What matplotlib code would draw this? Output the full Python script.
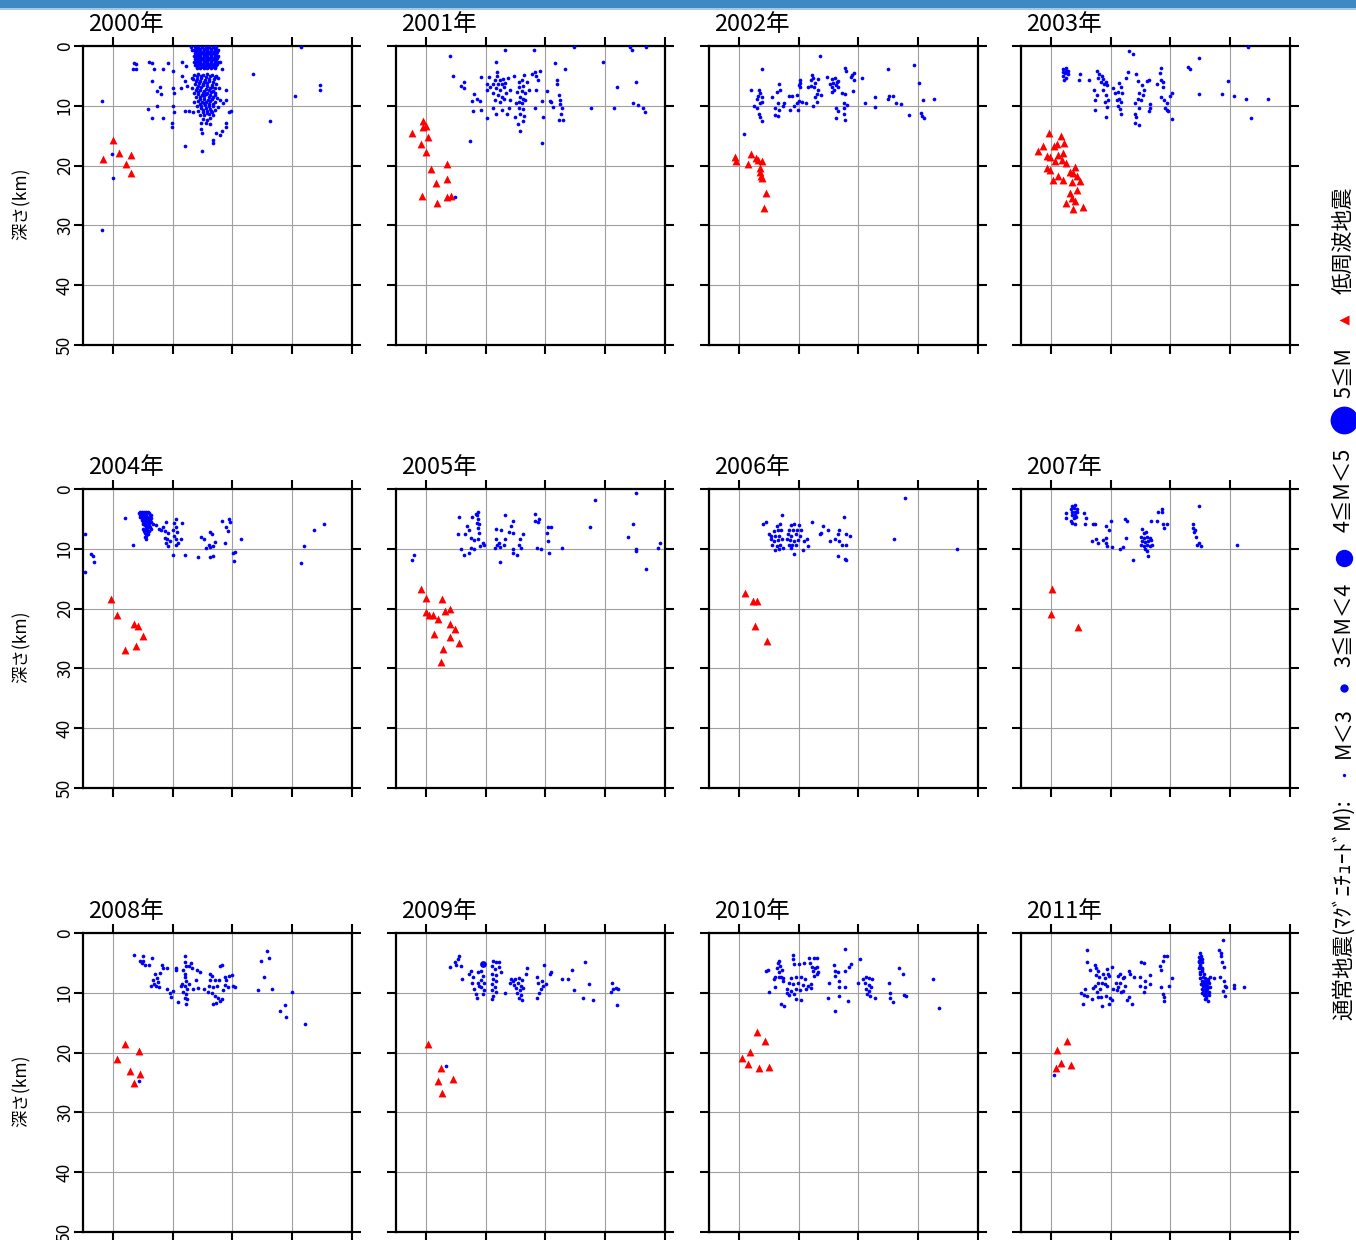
import matplotlib
matplotlib.use('Agg')
import matplotlib.pyplot as plt
from matplotlib.patches import Rectangle

plt.rcParams['font.family'] = ['Noto Sans CJK JP', 'DejaVu Sans']

# ---- data (x: horizontal distance units, d: depth km) ----
YEARS = [2000, 2001, 2002, 2003, 2004, 2005, 2006, 2007, 2008, 2009, 2010, 2011]
X_TICKS = [5, 15, 25, 35, 45]
DEPTH_TICKS = [0, 10, 20, 30, 40, 50]
DEPTH_LABELS = ['0', '10', '20', '30', '40', '50']

EQ_2000 = [
    (3.1, 9.2), (4.8, 18.1), (5.0, 22.1), (3.2, 30.7),
    (8.5, 2.9), (8.9, 3.0), (8.4, 3.9), (8.9, 3.9),
    (11.0, 2.6), (11.5, 2.8), (11.8, 3.9), (13.4, 3.9), (14.2, 2.9), (15.0, 4.2),
    (11.5, 5.9), (12.3, 7.5), (12.8, 6.9), (13.1, 8.1), (15.1, 7.1), (15.2, 7.8),
    (10.9, 10.6), (12.4, 10.1), (11.5, 12.1), (13.4, 12.1), (15.1, 10.1), (15.3, 11.0),
    (14.9, 12.9), (14.9, 13.5),
    (16.6, 2.6), (16.6, 5.1), (17.3, 3.4), (16.4, 7.1), (17.0, 5.9), (17.4, 6.7), (18.3, 5.3),
    (17.0, 10.9), (17.8, 10.9), (18.4, 11.0),
    (17.0, 16.8), (19.9, 17.6), (19.8, 12.9), (19.7, 13.8), (19.9, 14.6),
    (21.7, 15.7), (21.7, 16.2), (22.3, 14.6), (22.9, 14.8), (23.3, 14.2), (24.0, 12.9),
    (23.9, 13.5), (24.5, 11.0), (24.7, 10.9), (24.0, 9.1), (24.0, 7.4), (23.0, 9.1),
    (23.4, 9.6), (22.9, 2.7), (23.2, 3.8),
    (28.4, 4.6), (31.3, 12.5), (35.5, 8.3), (39.6, 6.6), (39.7, 7.3), (36.5, 0.2),
    (18.1, 0.2), (18.3, 0.7),
    # dense swarm, upper part
    (18.7, 0.2), (19.3, 0.2), (19.9, 0.2), (20.5, 0.2), (21.1, 0.2), (21.7, 0.2), (22.3, 0.2),
    (19.0, 0.45), (19.6, 0.45), (20.2, 0.45), (20.8, 0.45), (21.4, 0.45), (22.0, 0.45),
    (18.5, 0.7), (19.0, 0.7), (19.6, 0.7), (20.2, 0.7), (20.8, 0.7), (21.4, 0.7), (22.0, 0.7), (22.6, 0.7),
    (18.9, 0.95), (19.5, 0.95), (20.1, 0.95), (20.7, 0.95), (21.3, 0.95), (21.9, 0.95), (22.4, 0.95),
    (18.7, 1.2), (19.3, 1.2), (19.9, 1.2), (20.5, 1.2), (21.1, 1.2), (21.7, 1.2), (22.3, 1.2),
    (19.0, 1.45), (19.6, 1.45), (20.2, 1.45), (20.8, 1.45), (21.4, 1.45), (22.0, 1.45),
    (18.5, 1.7), (19.0, 1.7), (19.6, 1.7), (20.2, 1.7), (20.8, 1.7), (21.4, 1.7), (22.0, 1.7), (22.6, 1.7),
    (18.9, 1.95), (19.5, 1.95), (20.1, 1.95), (20.7, 1.95), (21.3, 1.95), (21.9, 1.95), (22.4, 1.95),
    (18.7, 2.2), (19.3, 2.2), (19.9, 2.2), (20.5, 2.2), (21.1, 2.2), (21.7, 2.2), (22.3, 2.2),
    (19.0, 2.45), (19.6, 2.45), (20.2, 2.45), (20.8, 2.45), (21.4, 2.45), (22.0, 2.45),
    (18.5, 2.7), (19.0, 2.7), (19.6, 2.7), (20.2, 2.7), (20.8, 2.7), (21.4, 2.7), (22.0, 2.7), (22.6, 2.7),
    (18.9, 2.95), (19.5, 2.95), (20.1, 2.95), (20.7, 2.95), (21.3, 2.95), (21.9, 2.95), (22.4, 2.95),
    (18.8, 3.2), (19.3, 3.2), (19.9, 3.2), (20.5, 3.2), (21.1, 3.2), (21.7, 3.2), (22.3, 3.2),
    (19.1, 3.45), (19.7, 3.45), (20.3, 3.45), (20.9, 3.45), (21.5, 3.45), (22.1, 3.45),
    (19.0, 3.7), (19.6, 3.7), (20.2, 3.7), (20.8, 3.7), (21.4, 3.7), (22.0, 3.7),
    # dense swarm, lower part
    (18.6, 4.8), (19.3, 4.7), (20.1, 4.9), (20.8, 4.7), (21.6, 4.8), (22.3, 5.0),
    (19.0, 5.1), (19.8, 5.0), (20.6, 5.2), (21.3, 5.1), (22.0, 5.2),
    (18.4, 5.5), (19.0, 5.6), (19.7, 5.4), (20.4, 5.7), (21.1, 5.5), (21.9, 5.6), (22.6, 5.4),
    (18.9, 5.9), (19.6, 5.9), (20.3, 6.0), (21.0, 5.9), (21.8, 6.0),
    (18.7, 6.3), (19.4, 6.2), (20.1, 6.4), (20.8, 6.2), (21.5, 6.5), (22.2, 6.3),
    (19.3, 6.7), (20.0, 6.6), (20.8, 6.7), (21.6, 6.8),
    (18.3, 7.0), (19.0, 7.1), (19.8, 6.9), (20.5, 7.2), (21.2, 7.0), (22.0, 7.1), (22.7, 7.0),
    (18.9, 7.4), (19.6, 7.4), (20.3, 7.5), (21.1, 7.4), (21.8, 7.5),
    (18.6, 7.8), (19.3, 7.7), (20.0, 7.9), (20.7, 7.8), (21.4, 7.7), (22.1, 7.9),
    (19.2, 8.1), (19.9, 8.2), (20.6, 8.1), (21.3, 8.2), (22.0, 8.2),
    (18.9, 8.5), (19.6, 8.6), (20.3, 8.4), (21.0, 8.6), (21.7, 8.5), (22.4, 8.7),
    (19.5, 8.9), (20.2, 8.9), (20.9, 9.0), (21.6, 8.9),
    (18.5, 9.3), (19.2, 9.2), (19.9, 9.4), (20.6, 9.3), (21.3, 9.2), (22.0, 9.4),
    (19.5, 9.7), (20.3, 9.6), (21.0, 9.7), (21.7, 9.7),
    (19.0, 10.0), (19.7, 10.1), (20.4, 9.9), (21.1, 10.1), (21.8, 10.0), (22.5, 10.2),
    (19.8, 10.4), (20.5, 10.4), (21.2, 10.5),
    (19.3, 10.8), (20.0, 10.7), (20.7, 10.9), (21.4, 10.8), (22.1, 10.7),
    (20.0, 11.1), (20.8, 11.2), (21.5, 11.1),
    (19.6, 11.5), (20.3, 11.6), (21.0, 11.4), (21.7, 11.6),
    (20.0, 12.2), (20.7, 12.3), (21.3, 12.1), (20.5, 12.8), (21.2, 13.0),
]
LFE_2000 = [(5.0, 15.7), (3.3, 18.9), (6.1, 17.9), (8.1, 18.3), (7.2, 19.7), (8.1, 21.2)]

EQ_2001 = [
    (9.0, 1.7), (18.2, 0.7), (23.1, 0.7), (29.7, 0.2), (39.1, 0.2), (39.5, 0.7), (41.8, 0.2),
    (16.7, 2.7), (26.6, 2.9), (28.3, 3.9), (34.6, 2.7),
    (9.6, 5.1), (10.9, 6.7), (11.3, 6.1), (11.4, 7.1), (13.1, 8.1), (12.7, 9.2), (13.5, 8.8),
    (14.0, 9.2), (14.3, 5.2), (14.3, 10.7), (12.8, 10.8), (15.3, 12.1), (12.3, 15.9),
    (16.9, 4.3), (16.9, 5.1), (16.5, 5.7), (17.4, 5.7), (17.9, 5.6), (16.3, 6.3), (17.1, 6.3),
    (17.7, 6.4), (18.2, 6.2), (15.7, 6.9), (16.7, 7.1), (17.4, 7.3), (18.1, 6.9), (16.3, 7.9),
    (17.1, 8.2), (17.7, 8.5), (18.4, 7.8), (16.6, 9.1), (17.4, 9.3), (18.1, 8.9), (15.2, 6.3),
    (15.6, 5.2), (15.2, 7.4), (16.2, 10.3), (16.8, 11.3), (17.7, 10.7), (18.5, 11.3),
    (18.9, 10.3), (19.1, 9.1), (19.1, 7.4), (18.7, 5.3), (19.7, 5.1),
    (20.5, 6.0), (21.0, 5.7), (20.6, 6.8), (21.3, 6.7), (20.3, 7.7), (21.0, 7.5), (21.6, 7.9),
    (20.8, 8.5), (21.3, 8.8), (20.5, 9.3), (21.0, 9.6), (21.6, 9.1), (20.6, 10.3), (21.3, 10.6),
    (20.8, 11.3), (21.4, 11.7), (21.2, 12.5), (20.4, 13.1), (20.7, 14.2), (19.9, 11.8),
    (20.1, 9.6), (21.9, 6.0), (21.4, 4.9),
    (22.2, 7.3), (22.7, 4.7), (23.2, 4.3), (23.5, 5.1), (23.8, 5.7), (24.1, 4.2), (23.4, 7.3),
    (23.2, 10.3), (24.4, 9.2), (24.6, 11.8), (24.5, 16.3), (25.2, 7.5), (25.8, 9.2),
    (26.2, 10.2), (25.9, 9.3),
    (26.9, 5.7), (27.0, 6.3), (27.3, 8.2), (27.5, 9.0), (27.4, 9.7), (27.7, 10.4), (27.6, 11.3),
    (27.9, 12.3), (27.3, 12.4),
    (32.7, 10.3), (36.5, 10.4), (37.0, 6.8), (39.7, 9.6), (40.4, 9.8), (40.2, 6.0),
    (41.4, 10.4), (41.7, 11.0), (9.9, 25.2),
]
LFE_2001 = [(4.5, 12.5), (4.6, 13.5), (5.0, 13.4), (2.7, 14.6), (5.4, 15.2), (4.1, 16.4),
            (5.1, 17.7), (8.5, 19.7), (5.8, 20.6), (8.6, 22.2), (6.7, 22.9), (4.3, 25.1),
            (6.9, 26.2), (8.6, 25.2), (9.2, 25.1)]

EQ_2002 = [
    (18.6, 1.7), (8.8, 3.9), (22.7, 3.7), (22.9, 4.1), (34.3, 3.2), (30.0, 3.9), (24.2, 4.5),
    (23.9, 4.9), (23.7, 5.2), (25.6, 5.3), (24.2, 5.7), (19.8, 5.2), (17.3, 4.9), (17.4, 5.3),
    (17.0, 5.7), (18.2, 5.6), (17.8, 6.2), (16.6, 6.8), (17.1, 6.7), (17.6, 6.8), (18.2, 7.3),
    (15.2, 5.7), (15.3, 6.2), (15.1, 6.6), (15.3, 6.9), (14.8, 8.2), (15.1, 9.2), (14.8, 9.5),
    (14.2, 10.1), (14.9, 10.7), (15.6, 9.3), (16.2, 9.5), (17.4, 10.1), (18.1, 9.3),
    (18.1, 8.1), (17.8, 8.6), (18.8, 8.2),
    (20.6, 5.6), (21.1, 5.4), (21.4, 6.0), (20.8, 6.2), (21.2, 6.6), (20.6, 6.8), (21.5, 6.8),
    (20.9, 7.3), (20.6, 7.7), (21.6, 5.8), (20.3, 6.3),
    (22.3, 7.8), (22.7, 8.1), (24.1, 7.5), (22.5, 9.5), (23.1, 9.9), (22.6, 10.4), (22.6, 11.4),
    (22.7, 12.4), (21.2, 12.1), (21.5, 10.8), (21.3, 10.4),
    (7.1, 7.3), (8.4, 7.4), (8.5, 7.8), (8.2, 8.4), (8.0, 8.8), (8.9, 8.6), (8.9, 9.3),
    (8.5, 9.6), (7.6, 10.1), (8.0, 10.4), (8.4, 11.4), (8.6, 11.8), (8.9, 12.6), (10.6, 8.6),
    (11.4, 7.7), (11.7, 6.3), (11.9, 7.3), (11.5, 9.6), (11.1, 10.4), (11.7, 10.7),
    (11.1, 11.6), (11.5, 11.7), (12.5, 9.6), (12.4, 10.1), (13.4, 8.4), (13.9, 8.4),
    (13.5, 10.7), (5.9, 14.7),
    (26.1, 9.6), (27.7, 8.6), (27.8, 10.2), (29.9, 8.8), (30.1, 8.4), (30.8, 8.4), (31.2, 9.5),
    (32.1, 9.7), (35.2, 6.2), (35.8, 9.1), (37.6, 8.9), (33.4, 11.6), (35.4, 11.2),
    (35.7, 11.7), (35.9, 12.1),
]
LFE_2002 = [(4.3, 18.5), (4.6, 19.3), (6.6, 19.7), (7.1, 18.1), (7.8, 18.8), (8.2, 19.1),
            (8.9, 19.3), (8.5, 20.4), (8.6, 21.0), (8.7, 21.7), (8.9, 22.1), (9.5, 24.6),
            (9.2, 27.1)]

EQ_2003 = [
    (7.1, 3.8), (7.5, 3.7), (7.9, 4.1), (7.0, 4.3), (7.4, 4.5), (7.8, 4.7), (7.1, 5.1),
    (7.5, 5.3), (7.2, 5.7), (7.6, 4.2),
    (9.8, 4.7), (9.7, 5.7), (11.4, 5.7), (18.1, 0.8), (18.7, 1.4), (17.9, 4.4), (19.3, 4.6),
    (21.0, 5.8), (21.4, 5.7), (23.4, 3.6), (23.2, 4.5), (23.5, 5.7), (23.8, 6.0), (22.7, 6.3),
    (28.0, 3.5), (28.2, 3.9), (29.7, 2.0), (38.0, 0.2), (34.7, 5.8), (29.7, 8.1), (33.6, 8.1),
    (35.7, 8.4), (37.7, 8.9), (41.4, 8.9), (38.4, 12.1),
    (12.7, 4.2), (13.1, 4.6), (13.5, 5.1), (12.9, 5.3), (13.8, 5.6), (14.2, 6.0), (13.3, 6.0),
    (13.9, 6.4), (14.4, 6.6), (12.2, 7.4), (12.7, 8.2), (12.3, 9.1), (12.3, 10.7), (13.8, 7.4),
    (14.2, 8.2), (14.6, 9.1), (14.0, 9.3), (14.4, 10.2), (14.3, 11.8), (15.4, 7.1), (15.7, 7.9),
    (16.4, 6.2), (16.7, 6.9), (16.3, 7.7), (16.9, 7.9), (16.4, 8.8), (16.7, 9.3), (16.3, 10.1),
    (16.6, 10.6), (16.8, 11.3), (17.6, 5.4), (16.0, 9.1),
    (19.5, 5.8), (20.2, 6.6), (20.5, 7.3), (19.8, 7.9), (20.4, 8.2), (19.6, 8.8), (20.0, 9.1),
    (19.1, 9.6), (19.8, 10.3), (19.1, 11.3), (19.2, 11.9), (19.1, 12.8), (19.8, 13.2),
    (21.5, 9.7), (21.6, 10.4), (21.4, 10.8),
    (23.7, 6.9), (23.5, 8.5), (23.9, 9.1), (24.4, 9.6), (24.1, 10.3), (24.4, 10.7), (24.9, 8.4),
    (25.2, 7.9), (25.2, 12.2), (24.6, 10.8),
]
LFE_2003 = [(4.7, 14.6), (6.7, 15.1), (7.2, 16.2), (6.0, 16.4), (5.5, 16.8), (3.7, 16.8),
            (2.9, 17.5), (4.3, 18.4), (4.8, 18.5), (6.2, 18.2), (7.1, 17.9), (6.8, 19.1),
            (5.7, 19.3), (7.6, 19.6), (4.3, 20.4), (4.8, 20.7), (9.0, 20.2), (8.2, 21.0),
            (8.7, 21.3), (9.3, 21.8), (6.2, 21.8), (5.4, 22.4), (7.1, 22.4), (8.5, 22.7),
            (9.8, 22.5), (8.2, 24.5), (9.3, 24.1), (8.5, 25.4), (7.6, 26.3), (8.7, 27.3),
            (10.4, 26.9), (9.0, 26.0)]

EQ_2004 = [
    (0.4, 7.6), (0.3, 13.8), (1.4, 10.9), (1.7, 11.2), (1.8, 12.2), (7.1, 4.8), (8.4, 9.3),
    (9.4, 4.0), (9.9, 3.9), (10.5, 3.9), (11.0, 4.0), (11.4, 4.3), (9.6, 4.6), (10.2, 4.7),
    (10.7, 4.6), (11.3, 4.8), (9.8, 5.2), (10.3, 5.4), (10.9, 5.4), (11.4, 5.6), (10.0, 5.9),
    (10.6, 6.1), (11.1, 6.1), (10.1, 6.7), (10.7, 6.8), (11.3, 6.7), (10.3, 7.3), (10.9, 7.6),
    (10.6, 8.3), (11.7, 5.9), (12.2, 6.1), (9.7, 4.3), (10.4, 5.0), (11.0, 4.9), (10.5, 6.4),
    (10.2, 7.0), (10.8, 7.1), (10.5, 7.8),
    (9.6, 3.9), (10.2, 3.8), (10.8, 3.8), (9.5, 4.4), (10.1, 4.3), (10.6, 4.3), (11.2, 4.4),
    (9.9, 4.9), (10.7, 5.0), (11.2, 5.2), (10.0, 5.5), (10.6, 5.6), (11.1, 5.7), (10.3, 6.1),
    (10.8, 6.4), (11.2, 6.4), (10.4, 6.9), (11.0, 7.0), (10.7, 7.5), (10.3, 8.0),
    (12.7, 6.7), (13.3, 6.3), (13.1, 6.8), (13.9, 5.6),
    (13.8, 7.1), (14.2, 7.4), (13.7, 8.2), (14.0, 8.4), (14.5, 8.7), (13.9, 9.0), (14.2, 9.6),
    (15.1, 6.8), (15.3, 5.7), (15.6, 5.1), (15.5, 6.3), (15.7, 7.2), (15.3, 7.9), (15.6, 8.4),
    (15.9, 9.0), (15.5, 9.4), (16.4, 8.3), (16.6, 5.7), (15.1, 11.1), (17.0, 11.1),
    (19.3, 11.3), (19.8, 8.0), (20.2, 8.4), (20.5, 9.8), (21.2, 7.2), (21.5, 7.6), (21.3, 9.7),
    (21.7, 9.6), (21.1, 9.4), (21.3, 11.3), (21.8, 11.2), (22.0, 8.9), (23.3, 5.4), (24.0, 6.3),
    (24.2, 7.1), (24.5, 5.0), (24.6, 5.6), (23.7, 9.1), (25.1, 10.7), (25.2, 12.1),
    (25.4, 10.6), (26.4, 8.3), (36.5, 12.3), (37.0, 9.6), (38.6, 6.9), (40.3, 5.9),
]
LFE_2004 = [(4.7, 18.4), (5.7, 21.1), (8.5, 22.6), (9.2, 22.9), (10.0, 24.6), (8.9, 26.3),
            (7.1, 26.9)]

EQ_2005 = [
    (40.2, 0.6), (33.3, 1.9), (10.5, 4.7), (12.7, 4.6), (13.3, 4.2), (13.7, 3.9), (13.5, 4.4),
    (13.8, 5.0), (13.5, 5.7), (13.9, 5.9), (13.7, 6.5), (13.9, 7.3), (13.8, 8.3), (11.9, 6.2),
    (12.2, 6.9), (11.6, 7.6), (10.3, 7.6), (12.5, 8.2), (13.0, 8.6), (14.5, 9.0), (14.1, 9.6),
    (14.8, 9.3), (10.9, 10.0), (12.5, 9.8), (12.2, 10.7), (11.3, 11.1), (13.0, 10.1),
    (16.7, 6.7), (17.6, 6.8), (18.2, 4.4), (19.5, 5.4), (19.3, 6.2), (18.9, 7.2), (19.5, 7.3),
    (18.3, 8.4), (16.7, 8.4), (17.2, 9.0), (16.9, 9.4), (16.5, 9.8), (17.4, 9.7), (18.0, 9.3),
    (17.4, 12.2), (19.5, 10.1), (19.6, 10.7), (20.3, 11.1), (20.9, 9.8), (20.7, 8.3),
    (21.2, 7.6), (20.6, 9.3), (23.3, 4.2), (23.2, 5.4), (23.8, 5.6), (24.0, 5.1), (23.6, 9.8),
    (24.2, 10.1), (25.3, 7.4), (25.4, 8.7), (25.5, 6.3), (25.9, 6.4), (25.6, 10.7),
    (27.7, 9.9), (32.5, 6.3), (39.6, 5.9), (38.8, 8.0), (40.1, 10.1), (40.2, 10.4),
    (41.8, 13.3), (43.8, 9.8), (44.1, 9.1), (3.0, 11.1), (2.6, 11.8),
]
LFE_2005 = [(4.1, 16.7), (5.0, 18.3), (7.7, 18.4), (5.1, 20.6), (5.6, 21.1), (6.2, 21.1),
            (7.1, 21.7), (8.2, 20.4), (9.0, 20.0), (9.0, 22.6), (9.8, 23.4), (6.3, 24.3),
            (9.1, 24.7), (10.5, 25.7), (7.9, 26.8), (7.6, 29.0)]

EQ_2006 = [
    (32.8, 1.5), (12.2, 4.4), (22.5, 4.6), (9.0, 5.9), (9.5, 5.6), (17.2, 5.6), (19.1, 6.2),
    (19.9, 6.8), (18.7, 7.3), (18.5, 7.6), (21.7, 6.8), (21.5, 7.6), (21.0, 8.4), (21.8, 8.7),
    (22.2, 9.3), (22.9, 9.3), (22.9, 7.6), (23.6, 7.8), (20.3, 8.7), (31.0, 8.4), (41.5, 10.0),
    (21.5, 11.2), (22.8, 11.7), (22.9, 11.9),
    (11.4, 6.2), (11.9, 5.9), (10.8, 7.1), (11.5, 6.9), (12.1, 6.8), (10.4, 7.8), (11.1, 7.9),
    (11.7, 7.8), (10.3, 8.4), (10.9, 8.7), (11.5, 8.6), (12.2, 8.4), (10.6, 9.4), (11.3, 9.6),
    (11.9, 9.4), (11.1, 10.2), (11.7, 10.1), (12.4, 9.8), (10.1, 7.6),
    (13.7, 6.1), (14.3, 5.9), (15.1, 6.1), (13.3, 6.8), (14.1, 6.8), (14.7, 6.9), (15.4, 6.8),
    (13.2, 7.6), (13.8, 7.8), (14.5, 7.6), (15.3, 7.8), (13.0, 8.4), (13.6, 8.6), (14.3, 8.7),
    (14.9, 8.6), (13.3, 9.3), (13.9, 9.4), (14.6, 9.3), (13.8, 9.8), (14.3, 10.8), (15.9, 8.7),
    (16.4, 8.3), (16.5, 9.6), (15.8, 10.2),
]
LFE_2006 = [(6.0, 17.4), (7.4, 18.7), (8.1, 18.7), (7.7, 22.9), (9.7, 25.4)]

EQ_2007 = [
    (8.6, 2.8), (9.1, 2.7), (8.4, 3.3), (8.9, 3.2), (9.3, 3.3), (8.5, 3.9), (9.0, 3.8),
    (9.4, 3.9), (8.6, 4.4), (9.1, 4.3), (8.8, 4.9), (9.2, 4.7),
    (7.6, 4.0), (7.5, 4.8), (8.3, 5.4), (8.6, 5.7), (9.0, 5.9), (10.5, 4.0), (10.9, 4.8),
    (10.7, 5.9), (12.1, 5.9), (12.4, 5.8), (14.2, 6.2), (14.8, 6.9), (15.1, 5.4), (17.4, 5.1),
    (17.7, 5.4), (17.6, 8.2), (11.8, 8.7), (12.5, 8.4), (12.8, 9.0), (13.7, 8.6), (14.2, 8.2),
    (14.3, 9.0), (14.4, 9.6), (15.3, 9.7), (16.6, 10.0), (17.0, 9.7), (18.7, 11.8),
    (20.2, 6.7), (20.5, 7.3), (20.9, 7.2), (20.0, 8.0), (20.5, 8.2), (21.0, 8.0), (21.5, 8.2),
    (20.2, 8.7), (20.8, 8.9), (21.3, 8.7), (21.7, 8.6), (20.0, 9.4), (20.5, 9.6), (21.0, 9.4),
    (21.6, 9.6), (20.8, 10.1), (21.1, 10.4), (21.3, 11.2), (21.9, 9.4),
    (21.7, 5.4), (22.7, 5.4), (23.0, 3.8), (23.6, 3.3), (23.6, 3.8), (23.8, 5.8), (24.4, 5.9),
    (23.9, 6.5), (29.7, 2.8), (28.7, 5.8), (28.8, 6.5), (29.1, 6.8), (28.9, 7.2), (29.3, 8.0),
    (29.4, 9.4), (29.8, 9.0), (30.1, 9.6), (36.1, 9.4),
]
LFE_2007 = [(5.2, 16.8), (5.0, 20.9), (9.5, 23.0)]

EQ_2008 = [
    (8.5, 3.6), (9.5, 4.7), (9.8, 5.1), (10.0, 4.6), (10.1, 3.9), (10.3, 5.4), (11.0, 5.4),
    (11.6, 4.1), (13.2, 5.4), (14.1, 5.9), (13.4, 5.9), (12.0, 6.9), (12.3, 7.6), (11.7, 7.9),
    (12.5, 8.2), (11.8, 8.6), (12.2, 8.9), (12.7, 9.0), (14.0, 9.4), (11.4, 8.9), (12.8, 6.7),
    (14.6, 10.1), (15.1, 9.7), (14.8, 10.7), (15.5, 5.8), (15.6, 6.2), (15.9, 11.5),
    (17.3, 11.8),
    (17.1, 3.9), (17.0, 4.8), (17.3, 5.6), (16.8, 6.2), (17.1, 6.8), (17.0, 7.4), (17.3, 8.0),
    (16.6, 8.6), (17.0, 8.9), (17.4, 9.3), (16.8, 9.8), (17.3, 10.2), (17.0, 10.8),
    (17.4, 11.1), (16.4, 8.9), (17.7, 8.6),
    (17.7, 5.6), (18.1, 5.1), (18.3, 5.8), (19.1, 6.2), (19.5, 6.5), (18.9, 7.8), (18.4, 9.4),
    (19.2, 9.2), (20.3, 9.4),
    (21.2, 6.9), (21.6, 7.2), (21.3, 7.8), (22.0, 7.9), (21.1, 8.9), (21.7, 9.1), (22.4, 8.9),
    (20.9, 9.8), (21.5, 10.1), (22.0, 10.6), (22.6, 10.9), (23.0, 11.3), (22.3, 11.7),
    (21.7, 11.9), (23.3, 11.1), (23.4, 9.6), (23.7, 8.7), (24.0, 7.9), (24.2, 9.1), (24.5, 7.2),
    (24.9, 7.1), (25.1, 8.9), (25.4, 9.1), (22.9, 5.6), (23.3, 5.4), (23.7, 7.4), (22.7, 7.9),
    (29.3, 9.6), (29.7, 4.6), (30.7, 3.0), (31.1, 4.1), (30.3, 7.3), (31.7, 9.3), (35.0, 9.8),
    (32.9, 13.0), (33.8, 12.1), (34.0, 14.0), (37.2, 15.2), (9.4, 24.7),
]
LFE_2008 = [(7.1, 18.6), (5.7, 21.1), (9.3, 19.8), (7.8, 23.0), (9.6, 23.6), (8.5, 25.1)]

EQ_2009 = [
    (9.0, 5.7), (9.8, 4.9), (10.3, 4.4), (10.1, 5.3), (10.6, 3.9), (10.9, 5.5), (11.1, 7.7),
    (12.2, 6.9), (12.5, 6.3), (12.9, 7.4), (12.7, 8.4), (13.1, 9.4), (13.3, 10.2), (13.5, 10.8),
    (13.8, 6.6), (13.7, 8.3),
    (14.3, 6.3), (14.6, 7.2), (14.2, 7.9), (14.7, 8.4), (14.3, 9.1), (14.8, 9.6), (14.5, 10.2),
    (13.9, 8.8),
    (16.3, 4.6), (16.7, 4.9), (16.1, 5.5), (16.5, 6.1), (16.1, 6.8), (16.7, 7.0), (16.3, 7.7),
    (16.8, 8.1), (16.0, 8.6), (16.5, 9.0), (16.1, 9.6), (16.7, 9.9), (16.3, 10.5), (16.0, 11.1),
    (17.2, 5.7), (17.6, 6.5), (17.2, 4.9),
    (18.3, 10.1), (19.1, 8.3), (19.3, 7.7),
    (19.5, 8.1), (19.9, 7.7), (20.6, 7.6), (21.0, 7.9), (19.7, 8.7), (20.4, 8.4), (20.9, 8.8),
    (20.1, 9.2), (20.8, 9.6), (21.2, 9.2), (20.3, 10.1), (20.9, 10.3), (20.6, 10.9),
    (21.1, 11.2),
    (21.9, 5.9), (21.7, 6.8), (23.6, 7.4), (23.8, 8.3), (24.4, 8.0), (24.8, 5.3), (24.6, 8.8),
    (24.2, 9.4), (24.0, 10.1), (23.6, 10.8), (25.1, 8.6), (25.7, 6.9), (26.0, 6.6), (27.8, 7.7),
    (28.8, 7.7), (29.4, 6.2), (29.8, 9.6), (31.7, 4.8), (32.3, 8.6), (31.2, 10.9), (32.9, 11.2),
    (36.1, 8.4), (36.3, 9.4), (36.8, 9.2), (37.2, 9.4), (36.0, 9.8), (37.0, 12.0), (8.4, 22.3),
]
EQ_M3_2009 = [(14.5, 5.2)]
LFE_2009 = [(5.3, 18.6), (7.5, 22.6), (7.1, 24.7), (9.5, 24.4), (7.7, 26.7)]

EQ_2010 = [
    (22.8, 2.6), (25.2, 4.3), (14.1, 3.7), (14.0, 4.4), (14.3, 5.2), (15.1, 5.2), (15.9, 5.1),
    (16.7, 4.1), (17.5, 4.1), (18.1, 4.1), (16.9, 5.1), (17.2, 5.7), (17.7, 5.9), (18.1, 5.7),
    (17.4, 6.4), (18.1, 6.8), (17.6, 7.2), (18.3, 6.6),
    (11.7, 4.6), (11.5, 5.1), (11.9, 5.5), (11.4, 5.9), (12.2, 6.2), (11.7, 6.6), (11.1, 7.3),
    (11.7, 7.4), (12.4, 7.6), (9.5, 6.4), (9.8, 6.2), (10.8, 7.7), (12.1, 7.4), (12.4, 8.1),
    (13.7, 7.6), (14.6, 7.3), (15.4, 7.4), (16.0, 7.7), (13.3, 8.4), (14.1, 8.6), (14.9, 8.4),
    (15.7, 8.7), (16.5, 8.8), (17.1, 8.6), (13.0, 9.4), (13.7, 9.7), (14.5, 9.4), (15.3, 9.6),
    (16.2, 9.4), (17.0, 9.2), (13.0, 10.1), (13.4, 10.3), (14.2, 10.2), (14.6, 11.1),
    (15.4, 11.2), (12.1, 11.9), (12.6, 12.2), (10.0, 9.8), (11.1, 9.0),
    (20.1, 8.4), (19.9, 10.8), (20.9, 5.3), (21.0, 6.3), (21.5, 6.6), (21.0, 7.2), (21.7, 8.0),
    (21.7, 9.1), (21.8, 10.5), (22.8, 6.3), (23.5, 5.7), (23.7, 5.2), (22.8, 9.1), (23.3, 11.4),
    (21.0, 13.1), (25.0, 8.4), (25.8, 7.7), (26.3, 7.3), (26.8, 7.6), (27.3, 7.7), (26.1, 8.4),
    (26.7, 8.7), (27.1, 9.0), (26.2, 9.4), (26.8, 9.7), (26.5, 10.2), (26.9, 10.5),
    (27.8, 10.9), (30.1, 8.4), (30.2, 10.1), (30.3, 10.9), (30.8, 11.6), (31.8, 5.9),
    (32.4, 6.8), (32.6, 10.3), (32.9, 10.5), (37.4, 7.7), (38.5, 12.6),
]
LFE_2010 = [(8.1, 16.6), (9.4, 18.0), (6.9, 19.9), (5.5, 20.9), (6.6, 21.9), (8.3, 22.6),
            (10.1, 22.4)]

EQ_2011 = [
    (11.1, 2.9), (11.1, 4.8), (11.5, 6.2), (12.4, 5.3), (12.5, 5.9), (12.8, 6.3), (12.5, 7.1),
    (13.1, 7.3), (13.7, 6.9), (14.0, 7.6), (14.4, 6.1), (14.6, 6.8), (15.2, 5.7), (14.8, 7.2),
    (12.8, 8.4), (12.4, 8.8), (13.5, 8.4), (14.0, 8.6), (14.4, 8.8), (13.2, 9.4), (12.7, 9.9),
    (12.0, 9.2), (10.7, 9.4), (10.1, 10.1), (10.5, 10.3), (11.1, 10.5), (10.3, 11.8),
    (11.8, 11.1), (12.9, 10.7), (13.3, 10.7), (14.2, 10.5), (14.9, 10.9), (15.2, 11.2),
    (14.8, 11.9), (13.5, 12.2), (15.4, 9.4), (16.0, 9.6), (16.3, 9.0), (16.6, 8.4), (17.0, 7.6),
    (16.3, 7.2), (16.6, 6.9), (17.3, 7.4), (17.1, 9.7), (16.7, 9.9), (15.9, 8.3), (17.4, 8.9),
    (18.1, 6.4), (18.3, 6.9), (18.9, 7.4), (18.1, 10.7), (17.8, 11.2), (18.5, 11.8),
    (20.0, 4.8), (20.6, 5.1), (19.9, 7.4), (20.7, 8.0), (19.9, 8.8), (20.7, 9.0), (20.6, 9.8),
    (21.6, 7.0), (21.6, 8.6), (23.2, 5.5), (23.4, 6.2), (23.8, 4.7), (23.9, 3.9), (24.5, 3.9),
    (23.5, 9.1), (23.7, 10.2), (23.9, 10.7), (23.9, 11.3), (24.8, 8.8), (25.2, 7.6),
    (30.0, 3.4), (29.8, 4.0), (30.2, 4.4), (29.7, 4.9), (30.0, 5.3), (29.8, 5.9), (30.2, 6.3),
    (29.9, 6.9), (30.4, 7.3), (30.8, 7.6), (31.2, 7.7), (30.2, 8.0), (30.6, 8.3), (31.0, 8.4),
    (31.5, 8.3), (30.4, 8.8), (30.9, 9.0), (31.3, 9.1), (31.7, 9.0), (30.5, 9.6), (30.9, 9.7),
    (31.4, 9.8), (30.6, 10.3), (31.0, 10.5), (31.5, 10.3), (30.8, 11.1), (31.2, 11.3),
    (29.7, 4.6), (30.2, 5.8), (31.6, 7.4),
    (30.1, 3.8), (29.9, 4.3), (30.3, 4.9), (29.9, 5.5), (30.3, 6.0), (30.0, 6.6), (30.6, 6.9),
    (30.0, 7.6), (30.8, 8.0), (31.2, 8.1), (30.1, 8.5), (30.7, 8.6), (31.1, 8.8), (30.2, 9.3),
    (30.7, 9.3), (31.1, 9.4), (30.3, 10.0), (30.8, 10.0), (31.2, 10.0), (30.9, 10.8),
    (33.8, 1.1), (33.2, 2.9), (33.4, 3.3), (33.4, 3.8), (33.6, 4.8), (34.0, 5.7), (33.3, 7.3),
    (32.3, 7.6), (33.9, 8.0), (34.1, 8.8), (34.3, 9.0), (33.8, 9.7), (34.1, 10.5), (35.7, 8.7),
    (35.7, 9.2), (37.3, 9.1), (5.6, 23.7),
]
LFE_2011 = [(7.7, 18.1), (6.0, 19.5), (6.7, 21.7), (8.3, 22.1), (5.8, 22.6)]

EQ = {2000: EQ_2000, 2001: EQ_2001, 2002: EQ_2002, 2003: EQ_2003, 2004: EQ_2004,
      2005: EQ_2005, 2006: EQ_2006, 2007: EQ_2007, 2008: EQ_2008, 2009: EQ_2009,
      2010: EQ_2010, 2011: EQ_2011}
EQ_M3 = {2009: EQ_M3_2009}
LFE = {2000: LFE_2000, 2001: LFE_2001, 2002: LFE_2002, 2003: LFE_2003, 2004: LFE_2004,
       2005: LFE_2005, 2006: LFE_2006, 2007: LFE_2007, 2008: LFE_2008, 2009: LFE_2009,
       2010: LFE_2010, 2011: LFE_2011}

# ---- layout (pixels) ----
FIG_W, FIG_H = 1356, 1240
COL_LEFT = [83, 396, 709, 1021]
ROW_TOP = [46, 489, 933]
AX_W, AX_H = 269, 299


def main():
    fig = plt.figure(figsize=(FIG_W / 100, FIG_H / 100), dpi=100)

    for i, year in enumerate(YEARS):
        row, col = i // 4, i % 4
        rect = [COL_LEFT[col] / FIG_W, 1 - (ROW_TOP[row] + AX_H) / FIG_H,
                AX_W / FIG_W, AX_H / FIG_H]
        ax = fig.add_axes(rect)
        draw_panel(ax, year, col == 0)

    # overlay in pixel coordinates: top bar, y-labels, legend
    ov = fig.add_axes([0, 0, 1, 1], zorder=10)
    ov.set_xlim(0, FIG_W)
    ov.set_ylim(FIG_H, 0)
    ov.axis('off')
    ov.patch.set_alpha(0)
    ov.add_patch(Rectangle((0, 0), FIG_W, 8, color='#3d8ac2', lw=0))
    ov.add_patch(Rectangle((0, 8), FIG_W, 1.5, color='#a6c6e4', lw=0))

    for top in ROW_TOP:
        ov.text(22, top + AX_H / 2 + 8, '深さ(km)', rotation=90, ha='center', va='center',
                fontsize=12.5)

    lx = 1344
    ov.text(lx, 1020, '通常地震(ﾏｸﾞﾆﾁｭｰﾄﾞM):', rotation=90, ha='center', va='bottom',
            fontsize=15.5)
    ov.plot(lx, 775, 'o', ms=2.4, color='#0000ff', mec='none')
    ov.text(lx, 733, 'M＜3', rotation=90, ha='center', va='center', fontsize=15.5)
    ov.plot(lx, 688, 'o', ms=6, color='#0000ff', mec='none')
    ov.text(lx, 625, '3≦M＜4', rotation=90, ha='center', va='center', fontsize=15.5)
    ov.plot(lx, 558, 'o', ms=12.5, color='#0000ff', mec='none')
    ov.text(lx, 490, '4≦M＜5', rotation=90, ha='center', va='center', fontsize=15.5)
    ov.plot(lx, 420, 'o', ms=20, color='#0000ff', mec='none')
    ov.text(lx, 373, '5≦M', rotation=90, ha='center', va='center', fontsize=15.5)
    ov.plot(lx, 320, '<', ms=7, color='#ff0000', mec='none')
    ov.text(lx, 240, '低周波地震', rotation=90, ha='center', va='center', fontsize=15.5)

    fig.savefig('out.png', dpi=100)


def draw_panel(ax, year, show_labels):
    ax.set_xlim(0, 45)
    ax.set_ylim(50, 0)
    ax.set_xticks(X_TICKS)
    ax.set_yticks(DEPTH_TICKS)
    ax.set_axisbelow(True)
    ax.grid(True, color='#a0a0a0', lw=0.8)
    for sp in ax.spines.values():
        sp.set_linewidth(1.6)
        sp.set_color('black')
    ax.tick_params(direction='out', length=6.5, width=1.5, top=True, right=True,
                   labelbottom=False, labelleft=show_labels, pad=0)
    if show_labels:
        ax.set_yticklabels(DEPTH_LABELS, rotation=90, va='center', fontsize=12.5)

    eq = EQ[year]
    ax.scatter([p[0] for p in eq], [p[1] for p in eq], s=7, c='#0000ff', linewidths=0,
               zorder=3, clip_on=False)
    if year in EQ_M3:
        big = EQ_M3[year]
        ax.scatter([p[0] for p in big], [p[1] for p in big], s=24, c='#0000ff',
                   linewidths=0, zorder=3)
    lfe = LFE[year]
    ax.scatter([p[0] for p in lfe], [p[1] for p in lfe], s=32, c='#ff0000', marker='^',
               linewidths=0, zorder=4)

    ax.annotate(f'{year}年', xy=(0, 1), xycoords='axes fraction', xytext=(4, 11),
                textcoords='offset points', fontsize=17, ha='left', va='baseline')


if __name__ == '__main__':
    main()
